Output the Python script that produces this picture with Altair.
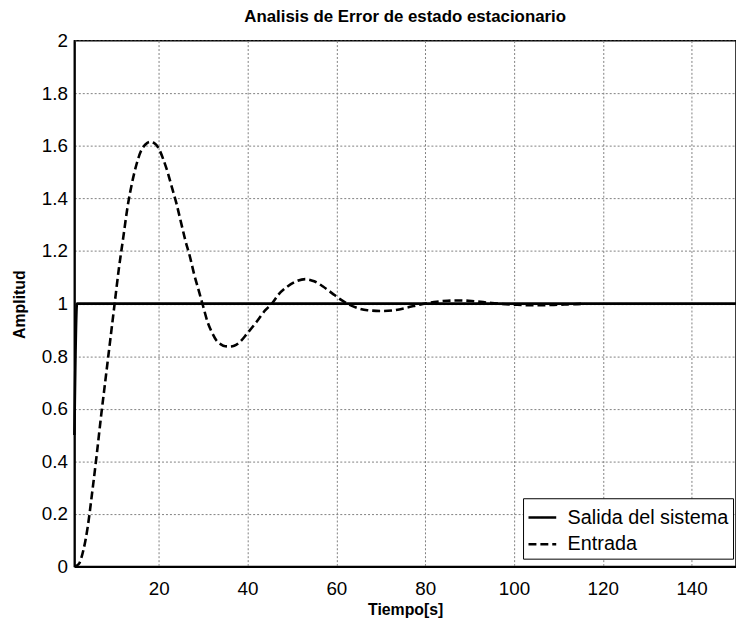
import altair as alt
import pandas as pd

# Dashed series ("Entrada")
t_entrada = [1, 2, 3, 4, 5, 6, 7, 8, 9, 10, 11, 12, 13, 14, 15, 16, 17, 18, 19, 20,
             21, 22, 23, 24, 25, 26, 27, 28, 29, 30, 31, 32, 33, 34, 35, 36, 37, 38,
             40, 42, 44, 45.5, 47, 49, 51, 53, 55, 57, 59, 61, 63, 65, 67, 70, 73, 76,
             79, 82, 85, 88, 91, 94, 97, 100, 103, 106, 109, 112, 115, 116]
v_entrada = [0.0, 0.01, 0.06, 0.15, 0.28, 0.42, 0.57, 0.71, 0.85, 0.99, 1.13, 1.25,
             1.37, 1.46, 1.53, 1.58, 1.605, 1.615, 1.61, 1.59, 1.55, 1.50, 1.44, 1.38,
             1.31, 1.24, 1.18, 1.11, 1.05, 0.99, 0.93, 0.89, 0.86, 0.845, 0.838, 0.837,
             0.84, 0.85, 0.888, 0.93, 0.975, 1.0, 1.035, 1.065, 1.085, 1.093, 1.085,
             1.065, 1.04, 1.015, 0.995, 0.982, 0.975, 0.972, 0.975, 0.985, 0.997,
             1.006, 1.011, 1.012, 1.009, 1.004, 0.999, 0.996, 0.994, 0.994, 0.995,
             0.997, 0.999, 1.0]

# Solid series ("Salida del sistema")
t_salida = [1, 1.6, 150]
v_salida = [0.5, 1.0, 1.0]

series_names = ["Salida del sistema", "Entrada"]

x_ticks = [20, 40, 60, 80, 100, 120, 140]
y_ticks = [0, 0.2, 0.4, 0.6, 0.8, 1, 1.2, 1.4, 1.6, 1.8, 2]

df = pd.concat([
    pd.DataFrame({"t": t_salida, "v": v_salida, "s": series_names[0]}),
    pd.DataFrame({"t": t_entrada, "v": v_entrada, "s": series_names[1]}),
], ignore_index=True)

FONT = "Liberation Sans"
W, H = 668, 531

chart = alt.Chart(df).mark_line(
    color="black", strokeWidth=2.6, interpolate="monotone"
).encode(
    x=alt.X("t:Q",
            scale=alt.Scale(domain=[1, 150], nice=False, zero=False),
            axis=alt.Axis(values=x_ticks, title="Tiempo[s]", format="~f",
                          titleX=334, titleY=43, titleBaseline="middle",
                          titleAlign="center")),
    y=alt.Y("v:Q",
            scale=alt.Scale(domain=[0, 2], nice=False),
            axis=alt.Axis(values=y_ticks, title="Amplitud", format="~f",
                          titleX=-55, titleY=266, titleAngle=-90,
                          titleBaseline="middle", titleAlign="center")),
    strokeDash=alt.StrokeDash(
        "s:N", sort=series_names,
        scale=alt.Scale(domain=series_names, range=[[1, 0], [8, 4]]),
        legend=alt.Legend(
            title=None, orient="none", legendX=453, legendY=462,
            direction="vertical", symbolType="stroke", symbolSize=784,
            symbolStrokeWidth=2.6, symbolStrokeColor="black",
            labelFont=FONT, labelFontSize=20, labelColor="black",
            labelOffset=10, rowPadding=1, labelLimit=400,
            strokeColor="black", fillColor="white", padding=4,
        ),
    ),
).properties(
    width=W, height=H,
    title=alt.TitleParams("Analisis de Error de estado estacionario",
                          font=FONT, fontSize=17, fontWeight="bold",
                          anchor="middle", frame="group", offset=6,
                          color="black"),
    autosize=alt.AutoSizeParams(type="none"),
    padding={"left": 67, "top": 30, "right": 0, "bottom": 54},
    background="white",
).configure_view(
    stroke="black", strokeWidth=1.5
).configure_axis(
    domainColor="black", domainWidth=2,
    grid=True, gridColor="#808080", gridDash=[2, 2], gridWidth=1,
    ticks=False, labelFont=FONT, labelFontSize=19, labelColor="black",
    titleFont=FONT, titleFontSize=16, titleFontWeight="bold", titleColor="black",
).configure_axisX(
    labelPadding=13
).configure_axisY(
    labelPadding=7
)

chart.save("out.html", embed_options={"renderer": "svg", "actions": False})
